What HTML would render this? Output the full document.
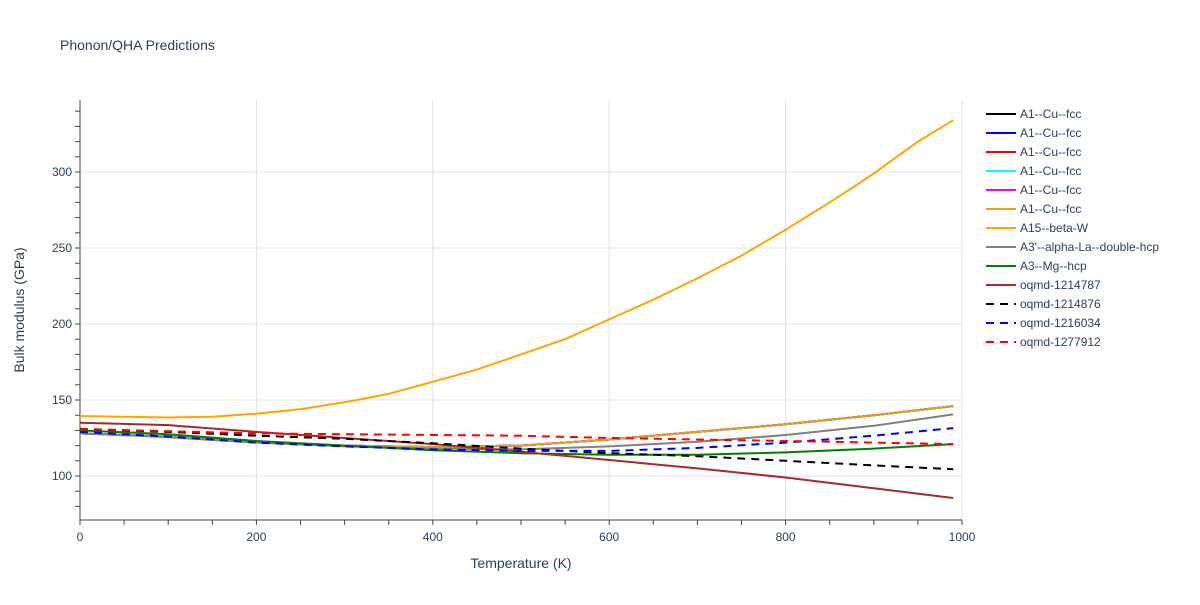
<!DOCTYPE html>
<html><head><meta charset="utf-8"><style>
body{margin:0;background:#fff;font-family:"Liberation Sans",Arial,sans-serif}
svg text{font-family:"Liberation Sans",Arial,sans-serif;fill:#2a3f5f}
</style></head><body>
<svg id="chart" width="1200" height="600" xmlns="http://www.w3.org/2000/svg">
<rect width="1200" height="600" fill="#fff"/>
<text x="60" y="50" font-size="14">Phonon/QHA Predictions</text>
<g id="grid"></g><g id="axes"></g><g id="series"></g><g id="legend"></g>
<text x="521" y="568" font-size="14" text-anchor="middle">Temperature (K)</text>
<text transform="translate(24,310) rotate(-90)" font-size="14" text-anchor="middle">Bulk modulus (GPa)</text>
</svg>
<script>
const temps=[0,100,200,300,400,500,600,700,800,900,990];
const tempsA15=[0,100,150,200,250,300,350,400,450,500,550,600,650,700,750,800,850,900,950,990];
const a15=[139.5,138.5,139,141,144,148.5,154,162,170,180,190,203,216,230,245,262,280,299,320,334];
const cu=[128,126,122.5,120,119,120,124,129,134,140,146];
const laHcp=[128,125.5,122,119.5,118,117.5,119.5,122.5,127,133,140.5];
const mgHcp=[130,127.5,123,120,117,115,114,114,115.5,118,121];
const oq787=[135,133.5,129,125,121,116,110.5,105,99,92,85.5];
const oq876=[131,129,126.5,124.5,121.5,118,115,113,110,107,104.5];
const oq034=[129,126,122,119.5,117.5,116.5,116.5,118.5,122,126.5,131.5];
const oq912=[131,129.5,128,127.5,127,126.5,125,124,123,122,121];
const xTicks=[0,200,400,600,800,1000];
const yTicks=[100,150,200,250,300];
const NS="http://www.w3.org/2000/svg";
const X=t=>80+t*0.882;
const Y=v=>476-(v-100)*1.52;
function mk(tag,parent,attrs){const e=document.createElementNS(NS,tag);for(const k in attrs)e.setAttribute(k,attrs[k]);document.getElementById(parent).appendChild(e);return e;}
xTicks.forEach(t=>{
 if(t>0){const g=mk('line','grid',{x1:X(t),x2:X(t),y1:100,y2:520,stroke:'#e0e0e0'});
 
 }
 const l=mk('text','axes',{x:X(t),y:541,'font-size':12,'text-anchor':'middle'});l.textContent=t;
 
 
});
for(let t=0;t<=1000;t+=50){mk('line','axes',{x1:X(t),x2:X(t),y1:520,y2:525,stroke:'#444'});}
yTicks.forEach(v=>{
 const g=mk('line','grid',{x1:80,x2:962,y1:Y(v),y2:Y(v),stroke:'#e0e0e0'});
 
 
 const l=mk('text','axes',{x:72,y:Y(v)+4,'font-size':12,'text-anchor':'end'});l.textContent=v;
 
 
});
for(let v=80;v<=340;v+=10){mk('line','axes',{x1:75,x2:80,y1:Y(v),y2:Y(v),stroke:'#444'});}
mk('line','axes',{x1:80,x2:80,y1:100,y2:520,stroke:'#444'});
mk('line','axes',{x1:80,x2:962,y1:520,y2:520,stroke:'#444'});
const series=[
 ['A1--Cu--fcc',temps,cu,'black',''],
 ['A1--Cu--fcc',temps,cu,'blue',''],
 ['A1--Cu--fcc',temps,cu,'red',''],
 ['A1--Cu--fcc',temps,cu,'cyan',''],
 ['A1--Cu--fcc',temps,cu,'magenta',''],
 ['A1--Cu--fcc',temps,cu,'goldenrod',''],
 ['A15--beta-W',tempsA15,a15,'orange',''],
 ["A3'--alpha-La--double-hcp",temps,laHcp,'gray',''],
 ['A3--Mg--hcp',temps,mgHcp,'green',''],
 ['oqmd-1214787',temps,oq787,'brown',''],
 ['oqmd-1214876',temps,oq876,'black','8,6'],
 ['oqmd-1216034',temps,oq034,'blue','8,6'],
 ['oqmd-1277912',temps,oq912,'red','8,6']];
series.forEach((s,i)=>{
 const d=s[1].map((t,j)=>(j?'L':'M')+X(t).toFixed(1)+','+Y(s[2][j]).toFixed(1)).join('');
 const p=mk('path','series',{d:d,fill:'none',stroke:s[3],'stroke-width':2,'stroke-dasharray':s[4]});
 
 
 const y=114+i*19;
 const g=mk('g','legend',{});
 
 
 const ln=document.createElementNS(NS,'line');
 [['x1',986],['x2',1016],['y1',y],['y2',y],['stroke',s[3]],['stroke-width',2],['stroke-dasharray',s[4]]].forEach(a=>ln.setAttribute(a[0],a[1]));
 g.appendChild(ln);
 const tx=document.createElementNS(NS,'text');
 tx.setAttribute('x',1020);tx.setAttribute('y',y+4);tx.setAttribute('font-size',12);
 tx.textContent=s[0];g.appendChild(tx);
});
</script>
</body></html>
